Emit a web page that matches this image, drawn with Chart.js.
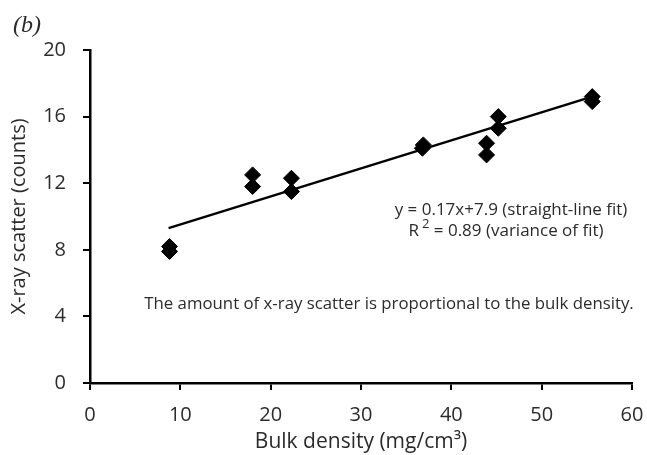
<!DOCTYPE html>
<html>
<head>
<meta charset="utf-8">
<script src="https://cdn.jsdelivr.net/npm/chart.js@4.4.1/dist/chart.umd.min.js"></script>
<style>
  html, body { margin: 0; padding: 0; background: #fff; }
  #wrap { width: 647px; height: 455px; position: relative; }
</style>
</head>
<body>
<div id="wrap"><canvas id="chart"></canvas></div>
<script>
// data
const densityX = [8.8, 8.8, 18.0, 18.0, 22.3, 22.3, 36.8, 36.9, 43.9, 43.9, 45.2, 45.2, 55.6, 55.6];
const scatterY = [8.2, 7.9, 12.5, 11.8, 12.3, 11.5, 14.1, 14.3, 14.4, 13.7, 16.0, 15.3, 17.2, 16.9];
const fitX = [8.7, 55.6];
const fitY = [9.3, 17.2];
const xTicks = [0, 10, 20, 30, 40, 50, 60];
const yTicks = [0, 4, 8, 12, 16, 20];

const FONT = '"Open Sans", Lato, sans-serif';
const TEXT = '#2b2b2b';

// extra texts: panel letter, fit equation and the note
const notes = {
    id: 'notes',
    afterDraw(chart) {
        const ctx = chart.ctx;
        ctx.save();
        ctx.fillStyle = TEXT;
        ctx.textBaseline = 'middle';

        ctx.font = 'italic 24px "Liberation Serif", serif';
        ctx.textAlign = 'left';
        ctx.fillText('(b)', 13, 26);

        ctx.font = '17px ' + FONT;
        ctx.textAlign = 'center';
        ctx.fillText('y = 0.17x+7.9 (straight-line fit)', 511, 210);

        // R² with a raised 2
        const a = 'R', b = '2', c = ' = 0.89 (variance of fit)';
        const wa = ctx.measureText(a).width;
        const wc = ctx.measureText(c).width;
        ctx.font = '13px ' + FONT;
        const wb = ctx.measureText(b).width + 3;
        let x = 506 - (wa + wb + wc) / 2;
        ctx.textAlign = 'left';
        ctx.font = '17px ' + FONT;
        ctx.fillText(a, x, 231);
        ctx.font = '13px ' + FONT;
        ctx.fillText(b, x + wa + 3, 224);
        ctx.font = '17px ' + FONT;
        ctx.fillText(c, x + wa + wb, 231);

        ctx.font = '16.8px ' + FONT;
        ctx.textAlign = 'center';
        ctx.fillText('The amount of x-ray scatter is proportional to the bulk density.', 389, 304);
        ctx.restore();
    }
};

new Chart(document.getElementById('chart'), {
    type: 'scatter',
    data: {
        datasets: [
            {
                label: 'Measured',
                data: densityX.map((v, i) => ({ x: v, y: scatterY[i] })),
                pointStyle: 'rectRot',
                pointRadius: 8,
                pointBackgroundColor: '#000',
                pointBorderColor: '#000',
                pointBorderWidth: 1
            },
            {
                type: 'line',
                label: 'Fit',
                data: fitX.map((v, i) => ({ x: v, y: fitY[i] })),
                borderColor: '#000',
                borderWidth: 2.5,
                pointRadius: 0,
                fill: false
            }
        ]
    },
    options: {
        responsive: true,
        maintainAspectRatio: false,
        animation: false,
        layout: { padding: { top: 50, right: 15, left: 0, bottom: 0 } },
        plugins: {
            legend: { display: false },
            tooltip: { enabled: false }
        },
        scales: {
            x: {
                type: 'linear',
                min: 0, max: 60,
                afterBuildTicks: s => { s.ticks = xTicks.map(v => ({ value: v })); },
                afterFit: s => { s.height = 72; s.paddingLeft = 0; s.paddingRight = 0; },
                ticks: { color: TEXT, font: { family: FONT, size: 20 }, padding: 13 },
                grid: { drawOnChartArea: false, drawTicks: true, tickLength: 7, color: '#000', lineWidth: 2 },
                border: { color: '#000', width: 2.5 },
                title: {
                    display: true,
                    text: 'Bulk density (mg/cm³)',
                    color: TEXT,
                    font: { family: FONT, size: 21 },
                    padding: { top: 0, bottom: 0 }
                }
            },
            y: {
                type: 'linear',
                min: 0, max: 20,
                afterBuildTicks: s => { s.ticks = yTicks.map(v => ({ value: v })); },
                afterFit: s => { s.width = 90; },
                ticks: { color: TEXT, font: { family: FONT, size: 20 }, padding: 17 },
                grid: { drawOnChartArea: false, drawTicks: true, tickLength: 7, color: '#000', lineWidth: 2 },
                border: { color: '#000', width: 2.5 },
                title: {
                    display: true,
                    text: 'X-ray scatter (counts)',
                    color: TEXT,
                    font: { family: FONT, size: 20 },
                    padding: { top: 7, bottom: 4 }
                }
            }
        }
    },
    plugins: [notes]
});
</script>
</body>
</html>
